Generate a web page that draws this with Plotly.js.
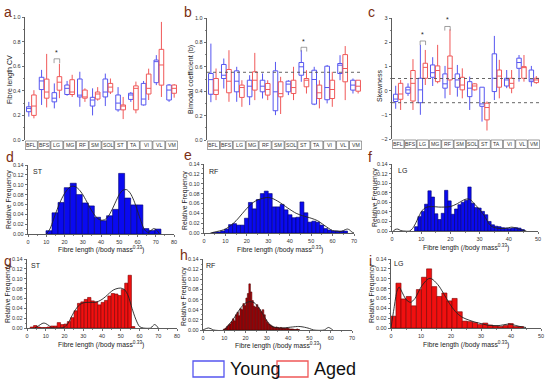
<!DOCTYPE html>
<html><head><meta charset="utf-8">
<script src="https://cdn.plot.ly/plotly-3.0.1.min.js"></script>
<style>html,body{margin:0;padding:0;background:#fff}#chart{width:550px;height:382px}</style>
</head><body><div id="chart"></div>
<script>
// ---------- DATA ----------
const muscles = ['BFL','BFS','LG','MG','RF','SM','SOL','ST','TA','VI','VL','VM'];

// (a) Fibre length CV
const cvYoungLow  = [0.19,0.285,0.257,0.36,0.27,0.20,0.276,0.23,0.31,0.28,0.446,0.31];
const cvYoungQ1   = [0.23,0.41,0.31,0.37,0.35,0.276,0.35,0.245,0.33,0.285,0.466,0.325];
const cvYoungMed  = [0.257,0.48,0.34,0.42,0.365,0.325,0.39,0.30,0.366,0.333,0.637,0.406];
const cvYoungQ3   = [0.27,0.51,0.385,0.447,0.496,0.347,0.496,0.366,0.38,0.46,0.65,0.447];
const cvYoungHigh = [0.31,0.57,0.46,0.48,0.555,0.42,0.54,0.43,0.39,0.48,0.69,0.455];
const cvAgedLow   = [0.176,0.265,0.34,0.35,0.31,0.32,0.374,0.17,0.217,0.325,0.35,0.344];
const cvAgedQ1    = [0.20,0.34,0.405,0.37,0.34,0.333,0.39,0.245,0.245,0.374,0.446,0.38];
const cvAgedMed   = [0.276,0.39,0.47,0.39,0.35,0.374,0.43,0.276,0.42,0.42,0.61,0.42];
const cvAgedQ3    = [0.366,0.495,0.515,0.49,0.406,0.39,0.46,0.285,0.44,0.536,0.737,0.447];
const cvAgedHigh  = [0.405,0.70,0.62,0.53,0.42,0.43,0.50,0.35,0.475,0.58,0.96,0.455];

// (b) Bimodal coefficient
const bcYoungLow  = [0.31,0.422,0.313,0.286,0.34,0.204,0.368,0.477,0.286,0.30,0.49,0.381];
const bcYoungQ1   = [0.375,0.504,0.395,0.354,0.395,0.24,0.395,0.531,0.294,0.33,0.545,0.409];
const bcYoungMed  = [0.495,0.531,0.482,0.441,0.441,0.395,0.458,0.60,0.496,0.43,0.613,0.45];
const bcYoungQ3   = [0.545,0.619,0.567,0.49,0.49,0.567,0.482,0.635,0.572,0.605,0.627,0.49];
const bcYoungHigh = [0.79,0.668,0.60,0.531,0.545,0.64,0.49,0.736,0.60,0.615,0.695,0.504];
const bcAgedLow   = [0.327,0.313,0.272,0.327,0.327,0.213,0.327,0.381,0.259,0.272,0.327,0.381];
const bcAgedQ1    = [0.373,0.387,0.349,0.409,0.368,0.354,0.381,0.436,0.34,0.34,0.477,0.40];
const bcAgedMed   = [0.409,0.482,0.43,0.49,0.414,0.38,0.43,0.49,0.387,0.414,0.586,0.441];
const bcAgedQ3    = [0.504,0.578,0.45,0.559,0.463,0.477,0.49,0.504,0.45,0.49,0.70,0.49];
const bcAgedHigh  = [0.586,0.736,0.49,0.714,0.49,0.518,0.60,0.572,0.49,0.559,0.77,0.49];
const bcThreshold = [0.555];

// (c) Skewness
const skYoungLow  = [-0.75,-0.22,-1.0,0.19,-0.32,-0.25,-0.80,-1.28,-0.39,0.10,0.37,0.17];
const skYoungQ1   = [-0.45,-0.11,-0.5,0.55,0.10,0.14,-0.25,-0.65,-0.04,0.19,0.92,0.37];
const skYoungMed  = [-0.35,0.03,0.03,0.74,0.28,0.44,0.10,-0.55,0.51,0.44,1.16,0.44];
const skYoungQ3   = [-0.15,0.14,0.51,1.06,0.69,0.69,0.37,0.14,1.52,0.51,1.34,0.85];
const skYoungHigh = [0.2,0.3,1.89,1.38,1.02,1.06,0.58,0.14,2.26,0.85,1.47,1.02];
const skAgedLow   = [-0.8,-0.8,0.23,0.3,-0.18,-0.32,0.0,-1.65,-0.32,-0.11,0.37,0.28];
const skAgedQ1    = [-0.36,-0.43,0.51,0.37,0.44,0.03,0.03,-1.21,0.14,0.10,0.51,0.33];
const skAgedMed   = [-0.14,0.3,0.96,0.83,0.92,0.23,0.19,-0.7,0.6,0.3,0.95,0.44];
const skAgedQ3    = [0.3,0.83,1.13,1.02,1.43,0.55,0.28,-0.52,0.85,0.51,0.99,0.51];
const skAgedHigh  = [0.44,1.3,1.68,1.89,2.53,0.92,0.3,-0.45,1.27,0.85,1.47,0.6];
const skThresholds = [0.5,-0.5];

// significance markers
const sigA = {cats:['LG'], y:[0.66], star:[0.71]};
const sigB = {cats:['ST'], y:[0.76], star:[0.81]};
const sigC = {cats:['LG','RF'], y:[2.05,2.65], star:[2.32,2.92]};

// (d) ST young histogram
const dX = [11.5,14.8,18.1,21.5,24.8,28.1,31.4,34.7,38.1,41.4,44.7,48.0,51.3,54.6,58.0,61.3,64.6,67.9,71.2];
const dY = [0.0067,0.043,0.064,0.094,0.103,0.080,0.063,0.057,0.034,0.027,0.037,0.050,0.123,0.073,0.059,0.059,0.011,0.007,0.010];
const dFitX = [10,12,14,16,18,20,22,24,26,28,30,32,34,36,38,40,42,44,46,48,50,52,54,56,58,60,62,64,66,67,69,71,72];
const dFitY = [0.0,0.01,0.03,0.05,0.068,0.082,0.092,0.097,0.096,0.09,0.08,0.067,0.053,0.041,0.032,0.028,0.029,0.036,0.049,0.065,0.08,0.089,0.09,0.083,0.068,0.047,0.025,0.008,0.003,0.006,0.011,0.006,0.0];

// (e) RF young histogram
const eX = [5.0,6.85,8.7,10.55,12.4,14.25,16.1,17.95,19.8,21.65,23.5,25.35,27.2,29.05,30.9,32.75,34.6,36.45,38.3,40.15,42.0,43.85,45.7,47.55,49.4,51.25,53.1,54.95,56.8,58.65,60.5,62.35,64.2,66.05];
const eY = [0.001,0.002,0.004,0.008,0.017,0.019,0.016,0.016,0.030,0.062,0.049,0.068,0.080,0.085,0.080,0.053,0.053,0.058,0.047,0.037,0.031,0.032,0.063,0.041,0.022,0.024,0.022,0.016,0.009,0.006,0.004,0.004,0.004,0.004];
const eFitX = [3,5,8,10,13,15,18,20,23,25,28,30,32,35,38,40,43,46,50,53,56,58,60,62,64,66,67,68,69,70];
const eFitY = [0.0,0.002,0.005,0.008,0.017,0.025,0.04,0.05,0.062,0.067,0.071,0.072,0.07,0.063,0.054,0.048,0.04,0.035,0.03,0.025,0.016,0.01,0.005,0.004,0.003,0.007,0.008,0.006,0.002,0.0];

// (f) LG young histogram
const fX = [8.3,9.44,10.58,11.72,12.86,14.0,15.14,16.28,17.42,18.56,19.7,20.84,21.98,23.12,24.26,25.4,26.54,27.68,28.82,29.96,31.1,32.24,33.38,34.52,35.66,36.8,37.94,39.08,40.22,41.36,42.5,43.64,44.78];
const fY = [0.009,0.030,0.041,0.056,0.084,0.071,0.036,0.024,0.037,0.085,0.063,0.035,0.046,0.055,0.060,0.064,0.092,0.058,0.049,0.048,0.041,0.034,0.020,0.013,0.010,0.009,0.007,0.006,0.005,0.006,0.007,0.006,0.003];
const fFitX = [0.5,1,2,3,4,6,7,8,9,10,11,12,14,16,18,20,22,24,25,26,27,28,30,32,33,34,36,38,40,41,42,44,46];
const fFitY = [0.0,0.003,0.004,0.001,0.0,0.0,0.005,0.015,0.028,0.04,0.047,0.05,0.051,0.05,0.05,0.051,0.056,0.063,0.066,0.067,0.065,0.058,0.045,0.028,0.017,0.01,0.006,0.005,0.007,0.008,0.007,0.003,0.0];

// (g) ST aged histogram
const gX = [2.6,4.4,6.2,8.0,9.8,11.6,13.4,15.2,17.0,18.8,20.6,22.4,24.2,26.0,27.8,29.6,31.4,33.2,35.0,36.8,38.6,40.4,42.2,44.0,45.8,47.6,49.4,51.2,53.0,54.8,56.6];
const gY = [0.002,0.005,0.002,0.001,0.001,0.002,0.004,0.004,0.011,0.007,0.008,0.013,0.021,0.035,0.050,0.053,0.058,0.062,0.055,0.053,0.047,0.052,0.056,0.065,0.070,0.069,0.066,0.078,0.091,0.107,0.003];
const gFitX = [4,6,8,9,10,12,13,14,18,20,22,24,26,28,30,32,34,36,38,40,42,44,46,48,50,52,54,56,58,60,62,66,67,68,69,70];
const gFitY = [0.0,0.004,0.009,0.010,0.009,0.004,0.001,0.0,0.0,0.002,0.01,0.025,0.038,0.047,0.051,0.052,0.052,0.052,0.054,0.058,0.064,0.071,0.077,0.080,0.081,0.078,0.065,0.04,0.018,0.003,0.0,0.0,0.004,0.007,0.005,0.0];

// (h) RF aged histogram
const hX = [10.0,10.7,11.4,12.1,12.8,13.5,14.2,14.9,15.6,16.3,17.0,17.7,18.4,19.1,19.8,20.5,21.2,21.9,22.6,23.3,24.0,24.7,25.4,26.1,26.8,27.5,28.2,28.9,29.6,30.3,31.0,31.7,32.4,33.1,33.8,34.5,35.2,35.9,36.6,37.3,38.0,38.7,39.4,40.1,40.8,41.5,42.2,42.9,43.6,44.3,45.0];
const hY = [0.002,0.004,0.007,0.010,0.012,0.016,0.022,0.018,0.030,0.035,0.028,0.042,0.040,0.052,0.048,0.063,0.072,0.091,0.075,0.058,0.047,0.045,0.050,0.044,0.040,0.036,0.040,0.030,0.020,0.015,0.012,0.010,0.008,0.006,0.005,0.006,0.005,0.004,0.005,0.004,0.004,0.003,0.004,0.003,0.002,0.002,0.002,0.001,0.001,0.002,0.001];
const hFitX = [0,1,2.5,4,5,10,12,14,16,18,20,22,24,26,28,30,32,34,36,38,40,42,45,47,50,52,57,58,59,60,61];
const hFitY = [0.0,0.002,0.004,0.002,0.0,0.0,0.01,0.02,0.033,0.045,0.053,0.056,0.054,0.045,0.032,0.018,0.008,0.005,0.004,0.004,0.005,0.006,0.007,0.006,0.003,0.0,0.0,0.003,0.005,0.003,0.0];

// (i) LG aged histogram
const iX = [0.8,2.5,4.2,5.9,7.6,9.3,11.0,12.7,14.4,16.1,17.8,19.5,21.2,22.9,24.6,26.3,28.0,29.7,31.4,33.1,34.8,36.5,38.2,39.9,41.6,43.3];
const iY = [0.024,0.091,0.059,0.064,0.045,0.078,0.103,0.120,0.084,0.064,0.071,0.055,0.060,0.033,0.014,0.013,0.011,0.007,0.010,0.006,0.004,0.003,0.005,0.009,0.003,0.003];
const iFitX = [0,1,2,2.7,3.5,5,6.5,8,10,12,13,14,16,18,20,22,24,26,28,30,32,34,36,38,39.5,41,43,45];
const iFitY = [0.0,0.04,0.075,0.083,0.075,0.058,0.052,0.06,0.083,0.098,0.101,0.098,0.085,0.065,0.045,0.03,0.021,0.016,0.012,0.009,0.006,0.005,0.005,0.007,0.008,0.006,0.003,0.001];

// ---------- LAYOUT HELPERS ----------
const W = 550, H = 382;
const px = v => v / W;
const py = v => 1 - v / H;
const FONT = 'Liberation Sans, Arial, sans-serif';
const BLUE = '#5656f0', RED = '#f05858';
const BROWN = '#7b2e12';

const panels = {
  a:{xa:'x',  ya:'y',  x:[25,178], y:[17,140]},
  b:{xa:'x2', ya:'y2', x:[207,362], y:[18,140]},
  c:{xa:'x3', ya:'y3', x:[392,540], y:[18,139]},
  d:{xa:'x4', ya:'y4', x:[28,174], y:[165,234]},
  e:{xa:'x5', ya:'y5', x:[204,354], y:[164,233]},
  f:{xa:'x6', ya:'y6', x:[392,538], y:[164,231]},
  g:{xa:'x7', ya:'y7', x:[27,177], y:[259,328]},
  h:{xa:'x8', ya:'y8', x:[203,352], y:[259,330]},
  i:{xa:'x9', ya:'y9', x:[391,541], y:[259,328]}
};
const axName = id => id.replace(/^x/, 'xaxis').replace(/^y/, 'yaxis');

const traces = [];
function boxes(p, groups) {
  groups.forEach(gp => {
    traces.push({type:'box', x:muscles, q1:gp.q1, median:gp.med, q3:gp.q3,
      lowerfence:gp.low, upperfence:gp.high, xaxis:p.xa, yaxis:p.ya,
      line:{color:gp.color, width:1}, fillcolor:'rgba(0,0,0,0)', whiskerwidth:0,
      boxpoints:false, offsetgroup:gp.name, name:gp.name, showlegend:false, hoverinfo:'skip'});
  });
}
boxes(panels.a, [
  {name:'Young', color:BLUE, low:cvYoungLow, q1:cvYoungQ1, med:cvYoungMed, q3:cvYoungQ3, high:cvYoungHigh},
  {name:'Aged', color:RED, low:cvAgedLow, q1:cvAgedQ1, med:cvAgedMed, q3:cvAgedQ3, high:cvAgedHigh}]);
boxes(panels.b, [
  {name:'Young', color:BLUE, low:bcYoungLow, q1:bcYoungQ1, med:bcYoungMed, q3:bcYoungQ3, high:bcYoungHigh},
  {name:'Aged', color:RED, low:bcAgedLow, q1:bcAgedQ1, med:bcAgedMed, q3:bcAgedQ3, high:bcAgedHigh}]);
boxes(panels.c, [
  {name:'Young', color:BLUE, low:skYoungLow, q1:skYoungQ1, med:skYoungMed, q3:skYoungQ3, high:skYoungHigh},
  {name:'Aged', color:RED, low:skAgedLow, q1:skAgedQ1, med:skAgedMed, q3:skAgedQ3, high:skAgedHigh}]);

function hist(p, xs, ys, w, fill, edge, fx, fy) {
  traces.push({type:'bar', x:xs, y:ys, width:w, xaxis:p.xa, yaxis:p.ya,
    marker:{color:fill, line:{color:edge, width:0.6}}, showlegend:false, hoverinfo:'skip'});
  traces.push({type:'scatter', mode:'lines', x:fx, y:fy, xaxis:p.xa, yaxis:p.ya,
    line:{color:'#222', width:0.9, shape:'spline', smoothing:0.8}, showlegend:false, hoverinfo:'skip'});
}
hist(panels.d, dX, dY, 3.3, '#0a0af0', '#00006e', dFitX, dFitY);
hist(panels.e, eX, eY, 1.85, '#0a0af0', '#00006e', eFitX, eFitY);
hist(panels.f, fX, fY, 1.14, '#0a0af0', '#00006e', fFitX, fFitY);
hist(panels.g, gX, gY, 1.8, '#f01010', '#7a0000', gFitX, gFitY);
hist(panels.h, hX, hY, 0.7, '#c00008', '#4a0000', hFitX, hFitY);
hist(panels.i, iX, iY, 1.7, '#f01010', '#7a0000', iFitX, iFitY);

const layout = {
  width:W, height:H, margin:{l:0,r:0,t:0,b:0},
  paper_bgcolor:'#fff', plot_bgcolor:'#fff', showlegend:false,
  boxmode:'group', boxgap:0.2, boxgroupgap:0.1, bargap:0, barmode:'overlay',
  font:{family:FONT, color:'#222', size:6},
  shapes:[], annotations:[]
};

const tickFont = {family:FONT, size:5.5, color:'#333'};
function yAxisCommon(extra) {
  return Object.assign({showgrid:false, zeroline:false, showline:true, linecolor:'#333', linewidth:0.8,
    ticks:'outside', ticklen:2.5, tickwidth:0.7, tickcolor:'#333', tickfont:tickFont,
    minor:{ticks:'outside', ticklen:1.5, tickwidth:0.6, tickcolor:'#333'}, fixedrange:true}, extra);
}

// box-plot panels
[['a',[0,1],0.2,'.1f',0.1],['b',[0,1],0.2,'.1f',0.1],['c',[-2,3],1,'d',0.5]].forEach(([k,rng,dt,fmt,mdt]) => {
  const p = panels[k];
  layout[axName(p.xa)] = {domain:[px(p.x[0]), px(p.x[1])], anchor:p.ya, type:'category',
    categoryorder:'array', categoryarray:muscles, range:[-0.5, muscles.length-0.5],
    showticklabels:false, ticks:'', showline:false, showgrid:false, zeroline:false, fixedrange:true};
  const ya = yAxisCommon({domain:[py(p.y[1]), py(p.y[0])], anchor:p.xa, range:rng, dtick:dt, tick0:0, tickformat:fmt});
  ya.minor.dtick = mdt;
  layout[axName(p.ya)] = ya;
  // category label cells
  const top = (k === 'c') ? 140 : 141, bot = top + 8.5;
  muscles.forEach((m, idx) => {
    layout.shapes.push({type:'rect', xref:p.xa, yref:'paper', x0:idx-0.47, x1:idx+0.47,
      y0:py(bot), y1:py(top), line:{color:'#555', width:0.6}, fillcolor:'rgba(0,0,0,0)'});
    layout.annotations.push({xref:p.xa, yref:'paper', x:m, y:py((top+bot)/2), text:m, showarrow:false,
      font:{family:FONT, size:5.2, color:'#333'}, xanchor:'center', yanchor:'middle'});
  });
});

// threshold dotted lines
bcThreshold.forEach(v => layout.shapes.push({type:'line', xref:'x2 domain', yref:'y2', x0:0, x1:1, y0:v, y1:v,
  line:{color:'#555', width:0.9, dash:'dot'}}));
skThresholds.forEach(v => layout.shapes.push({type:'line', xref:'x3 domain', yref:'y3', x0:0, x1:1, y0:v, y1:v,
  line:{color:'#555', width:0.9, dash:'dot'}}));

// significance brackets
function sig(p, s, leg) {
  s.cats.forEach((c, j) => {
    const idx = muscles.indexOf(c);
    const y = s.y[j];
    const base = {type:'line', xref:p.xa, yref:p.ya, line:{color:'#777', width:0.7}};
    layout.shapes.push(Object.assign({}, base, {x0:idx-0.22, x1:idx+0.22, y0:y, y1:y}));
    layout.shapes.push(Object.assign({}, base, {x0:idx-0.22, x1:idx-0.22, y0:y, y1:y-leg}));
    layout.shapes.push(Object.assign({}, base, {x0:idx+0.22, x1:idx+0.22, y0:y, y1:y-leg}));
    layout.annotations.push({xref:p.xa, yref:p.ya, x:c, y:s.star[j], text:'*', showarrow:false,
      font:{family:FONT, size:7, color:'#222'}, yanchor:'middle'});
  });
}
sig(panels.a, sigA, 0.035);
sig(panels.b, sigB, 0.035);
sig(panels.c, sigC, 0.17);

// histogram axes
[['d',80],['e',70],['f',50],['g',80],['h',70],['i',50]].forEach(([k,xmax]) => {
  const p = panels[k];
  layout[axName(p.xa)] = {domain:[px(p.x[0]), px(p.x[1])], anchor:p.ya, range:[0,xmax], dtick:10, tick0:0,
    showgrid:false, zeroline:false, showline:true, linecolor:'#333', linewidth:0.8, ticks:'outside', ticklen:2.5,
    tickwidth:0.7, tickcolor:'#333', tickfont:tickFont,
    minor:{ticks:'outside', ticklen:1.5, tickwidth:0.6, tickcolor:'#333', dtick:5}, fixedrange:true};
  const ya = yAxisCommon({domain:[py(p.y[1]), py(p.y[0])], anchor:p.xa, range:[0,0.14], dtick:0.02, tick0:0, tickformat:'.2f'});
  ya.minor.dtick = 0.01;
  layout[axName(p.ya)] = ya;
});

// text annotations
function txt(x, y, t, opts) {
  layout.annotations.push(Object.assign({xref:'paper', yref:'paper', x:px(x), y:py(y), text:t, showarrow:false,
    font:{family:FONT, size:7, color:'#222'}, xanchor:'center', yanchor:'middle'}, opts || {}));
}
const letters = [['a',8,12],['b',188,12],['c',371,12],['d',10,157],['e',188,155],['f',370,157],['g',8,261],['h',184,255],['i',370,261]];
letters.forEach(([l,x,y]) => txt(x, y, l, {font:{family:FONT, size:14, color:BROWN}}));

txt(10, 80, 'Fibre length CV', {textangle:-90});
txt(191, 80, 'Bimodal coefficient (b)', {textangle:-90});
txt(380, 86, 'Skewness', {textangle:-90});

const xt = 'Fibre length (/body mass<sup>0.33</sup>)';
[[101,249],[280,249],[466,247],[101,344],[278,345],[466,344]].forEach(([x,y]) =>
  txt(x, y, xt, {font:{family:FONT, size:6.8, color:'#222'}}));
[[9,200],[185,201],[375,198],[8,294],[184,297],[372,294]].forEach(([x,y]) =>
  txt(x, y, 'Relative Frequency', {textangle:-90, font:{family:FONT, size:6.8, color:'#222'}}));
[['ST',38,172],['RF',213,172],['LG',402,170],['ST',36,265],['RF',210,265],['LG',398,263]].forEach(([t,x,y]) =>
  txt(x, y, t, {font:{family:FONT, size:7, color:'#222'}}));

// legend
const legend = [['Young', BLUE, 193], ['Aged', RED, 277]];
legend.forEach(([name, col, x0]) => {
  layout.shapes.push({type:'rect', xref:'paper', yref:'paper', x0:px(x0), x1:px(x0+31), y0:py(377), y1:py(361),
    line:{color:col, width:1.3}, fillcolor:'rgba(0,0,0,0)'});
  txt(x0+35, 369, name, {xanchor:'left', font:{family:FONT, size:18, color:'#111'}});
});

Plotly.newPlot('chart', traces, layout, {staticPlot:true, displayModeBar:false});
</script>
</body></html>
